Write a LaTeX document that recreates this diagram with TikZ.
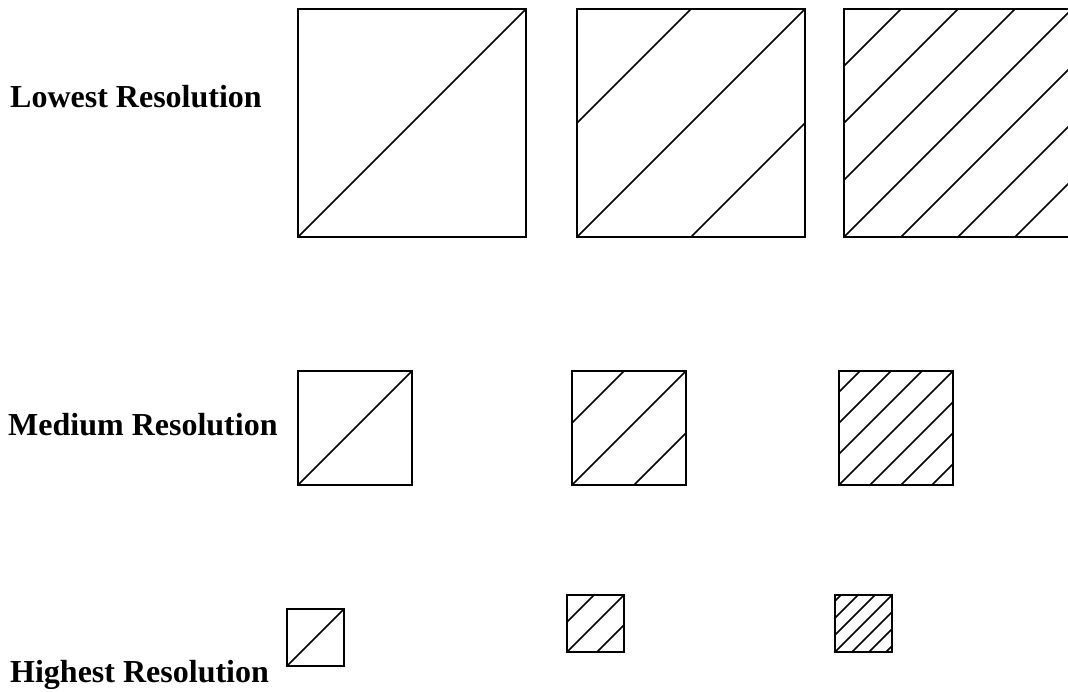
\documentclass[tikz,border=0pt]{standalone}
\usepackage{fontspec}
\setmainfont{Liberation Serif}
\usetikzlibrary{calc}

\tikzset{
  sq/.style={draw=black, line width=1.8pt, rectangle, inner sep=0pt, outer sep=0pt},
  hatch/.style={draw=black, line width=1.7pt},
  reslabel/.style={anchor=base west, inner sep=0pt, font=\fontsize{32}{38}\selectfont\bfseries}
}

% square with diagonal and hatch lines: name, left, top, side, offsets
\newcommand{\ressquare}[5]{%
  \node[sq, minimum size=#4pt] (#1) at (#2+#4/2, #3+#4/2) {};
  \draw[hatch] (#1.south west) -- (#1.north east);
  \foreach \d in {#5} {
    \draw[hatch] ($(#1.south west)+(0,-\d)$) -- ($(#1.north east)+(-\d,0)$);
    \draw[hatch] ($(#1.south west)+(\d,0)$) -- ($(#1.north east)+(0,\d)$);
  }%
}

\begin{document}
\begin{tikzpicture}[x=1pt, y=-1pt]
  \useasboundingbox (0,0) rectangle (1068,692);
  \clip (0,0) rectangle (1068,692);

  \node[reslabel] (lowlbl) at (10,108) {Lowest Resolution};
  \node[reslabel] (medlbl) at (8,435) {Medium Resolution};
  \node[reslabel] (highlbl) at (10,682) {Highest Resolution};

  % top row
  \node[sq, minimum size=228pt] (low1) at (412,123) {};
  \draw[hatch] (low1.south west) -- (low1.north east);
  \ressquare{low2}{577}{9}{228}{114}
  \ressquare{low3}{844}{9}{228}{57,114,171}

  % middle row
  \node[sq, minimum size=114pt] (med1) at (355,428) {};
  \draw[hatch] (med1.south west) -- (med1.north east);
  \ressquare{med2}{572}{371}{114}{62}
  \ressquare{med3}{839}{371}{114}{31,62,93}

  % bottom row
  \node[sq, minimum size=57pt] (high1) at (315.5,637.5) {};
  \draw[hatch] (high1.south west) -- (high1.north east);
  \ressquare{high2}{567}{595}{57}{30}
  \ressquare{high3}{835}{595}{57}{17,34,51}
\end{tikzpicture}
\end{document}
